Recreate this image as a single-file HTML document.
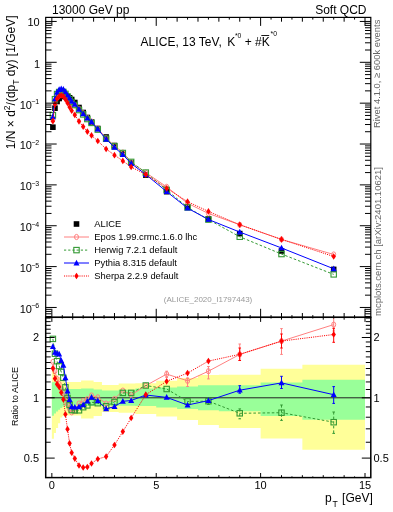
<!DOCTYPE html>
<html><head><meta charset="utf-8"><style>
html,body{margin:0;padding:0;background:#fff;width:393px;height:512px;overflow:hidden}
svg{display:block;will-change:transform}
text{font-family:"Liberation Sans",sans-serif}
</style></head><body>
<svg width="393" height="512" viewBox="0 0 393 512">
<rect width="393" height="512" fill="#fff"/>
<clipPath id="cr"><rect x="45.7" y="317.3" width="325.1" height="160.3"/></clipPath>
<clipPath id="cm"><rect x="45.7" y="17.4" width="325.1" height="299.90000000000003"/></clipPath>
<g clip-path="url(#cr)">
<path d="M51.85,370.40 L53.94,370.40 L53.94,372.60 L56.03,372.60 L56.03,375.00 L58.11,375.00 L58.11,377.00 L60.20,377.00 L60.20,379.50 L62.29,379.50 L62.29,381.00 L64.38,381.00 L64.38,382.00 L66.46,382.00 L66.46,382.10 L68.55,382.10 L68.55,382.10 L70.64,382.10 L70.64,382.10 L72.73,382.10 L72.73,382.10 L76.90,382.10 L76.90,382.10 L81.08,382.10 L81.08,380.40 L85.25,380.40 L85.25,380.40 L89.43,380.40 L89.43,380.40 L93.60,380.40 L93.60,382.10 L101.95,382.10 L101.95,385.00 L110.31,385.00 L110.31,385.00 L118.66,385.00 L118.66,383.40 L127.01,383.40 L127.01,383.40 L135.36,383.40 L135.36,383.20 L156.23,383.20 L156.23,380.80 L177.11,380.80 L177.11,377.90 L197.99,377.90 L197.99,375.00 L218.87,375.00 L218.87,374.80 L260.62,374.80 L260.62,368.80 L302.37,368.80 L302.37,364.80 L365.00,364.80 L365.00,449.70 L302.37,449.70 L302.37,438.50 L260.62,438.50 L260.62,428.00 L218.87,428.00 L218.87,425.10 L197.99,425.10 L197.99,420.00 L177.11,420.00 L177.11,416.60 L156.23,416.60 L156.23,414.00 L135.36,414.00 L135.36,412.70 L127.01,412.70 L127.01,412.70 L118.66,412.70 L118.66,412.00 L110.31,412.00 L110.31,412.00 L101.95,412.00 L101.95,416.00 L93.60,416.00 L93.60,418.60 L89.43,418.60 L89.43,418.60 L85.25,418.60 L85.25,418.60 L81.08,418.60 L81.08,415.50 L76.90,415.50 L76.90,415.50 L72.73,415.50 L72.73,415.50 L70.64,415.50 L70.64,415.50 L68.55,415.50 L68.55,415.50 L66.46,415.50 L66.46,415.50 L64.38,415.50 L64.38,416.00 L62.29,416.00 L62.29,417.60 L60.20,417.60 L60.20,423.30 L58.11,423.30 L58.11,428.10 L56.03,428.10 L56.03,433.00 L53.94,433.00 L53.94,438.70 L51.85,438.70Z" fill="#ffff99"/>
<path d="M51.85,382.30 L53.94,382.30 L53.94,382.30 L56.03,382.30 L56.03,383.50 L58.11,383.50 L58.11,385.00 L60.20,385.00 L60.20,387.00 L62.29,387.00 L62.29,388.00 L64.38,388.00 L64.38,389.00 L66.46,389.00 L66.46,389.00 L68.55,389.00 L68.55,389.00 L70.64,389.00 L70.64,389.00 L72.73,389.00 L72.73,389.00 L76.90,389.00 L76.90,389.00 L81.08,389.00 L81.08,388.40 L85.25,388.40 L85.25,388.40 L89.43,388.40 L89.43,388.40 L93.60,388.40 L93.60,389.50 L101.95,389.50 L101.95,390.40 L110.31,390.40 L110.31,390.40 L118.66,390.40 L118.66,389.70 L127.01,389.70 L127.01,389.70 L135.36,389.70 L135.36,388.40 L156.23,388.40 L156.23,387.40 L177.11,387.40 L177.11,386.50 L197.99,386.50 L197.99,385.20 L218.87,385.20 L218.87,385.20 L260.62,385.20 L260.62,382.40 L302.37,382.40 L302.37,379.80 L365.00,379.80 L365.00,419.70 L302.37,419.70 L302.37,416.00 L260.62,416.00 L260.62,411.30 L218.87,411.30 L218.87,410.30 L197.99,410.30 L197.99,409.00 L177.11,409.00 L177.11,407.50 L156.23,407.50 L156.23,406.10 L135.36,406.10 L135.36,405.70 L127.01,405.70 L127.01,405.70 L118.66,405.70 L118.66,405.70 L110.31,405.70 L110.31,405.70 L101.95,405.70 L101.95,405.50 L93.60,405.50 L93.60,406.00 L89.43,406.00 L89.43,406.00 L85.25,406.00 L85.25,406.00 L81.08,406.00 L81.08,405.50 L76.90,405.50 L76.90,405.50 L72.73,405.50 L72.73,405.50 L70.64,405.50 L70.64,405.50 L68.55,405.50 L68.55,405.50 L66.46,405.50 L66.46,406.00 L64.38,406.00 L64.38,406.60 L62.29,406.60 L62.29,407.90 L60.20,407.90 L60.20,409.70 L58.11,409.70 L58.11,411.40 L56.03,411.40 L56.03,413.60 L53.94,413.60 L53.94,415.80 L51.85,415.80Z" fill="#99ff99"/>
<line x1="45.7" y1="397.8" x2="370.8" y2="397.8" stroke="#222" stroke-width="1"/>
</g>
<g clip-path="url(#cm)">
<rect x="50.09" y="124.40" width="5.60" height="5.60" fill="#000"/>
<rect x="52.18" y="105.40" width="5.60" height="5.60" fill="#000"/>
<rect x="54.27" y="98.70" width="5.60" height="5.60" fill="#000"/>
<rect x="56.36" y="95.70" width="5.60" height="5.60" fill="#000"/>
<rect x="58.44" y="93.70" width="5.60" height="5.60" fill="#000"/>
<rect x="60.53" y="93.20" width="5.60" height="5.60" fill="#000"/>
<rect x="62.62" y="93.20" width="5.60" height="5.60" fill="#000"/>
<rect x="64.71" y="93.70" width="5.60" height="5.60" fill="#000"/>
<rect x="66.80" y="95.00" width="5.60" height="5.60" fill="#000"/>
<rect x="68.88" y="96.70" width="5.60" height="5.60" fill="#000"/>
<rect x="72.01" y="99.70" width="5.60" height="5.60" fill="#000"/>
<rect x="76.19" y="104.70" width="5.60" height="5.60" fill="#000"/>
<rect x="80.37" y="109.70" width="5.60" height="5.60" fill="#000"/>
<rect x="84.54" y="114.70" width="5.60" height="5.60" fill="#000"/>
<rect x="88.72" y="119.20" width="5.60" height="5.60" fill="#000"/>
<rect x="94.98" y="125.70" width="5.60" height="5.60" fill="#000"/>
<rect x="103.33" y="134.20" width="5.60" height="5.60" fill="#000"/>
<rect x="111.68" y="142.70" width="5.60" height="5.60" fill="#000"/>
<rect x="120.03" y="151.20" width="5.60" height="5.60" fill="#000"/>
<rect x="128.38" y="160.10" width="5.60" height="5.60" fill="#000"/>
<rect x="143.00" y="172.30" width="5.60" height="5.60" fill="#000"/>
<rect x="163.87" y="188.90" width="5.60" height="5.60" fill="#000"/>
<rect x="184.75" y="203.90" width="5.60" height="5.60" fill="#000"/>
<rect x="205.63" y="216.10" width="5.60" height="5.60" fill="#000"/>
<rect x="236.94" y="230.80" width="5.60" height="5.60" fill="#000"/>
<rect x="278.70" y="248.20" width="5.60" height="5.60" fill="#000"/>
<rect x="330.89" y="266.60" width="5.60" height="5.60" fill="#000"/>
</g>
<g clip-path="url(#cm)"><path d="M52.89,119.88 L54.98,102.73 L57.07,97.66 L59.16,95.68 L61.24,94.64 L63.33,95.02 L65.42,96.04 L67.51,97.76 L69.60,100.08 L71.68,102.48 L74.81,105.19 L78.99,108.66 L83.17,113.15 L87.34,117.77 L91.52,121.53 L97.78,128.40 L106.13,138.18 L114.48,145.74 L122.83,152.53 L131.18,162.33 L145.80,172.61 L166.67,186.87 L187.55,203.23 L208.43,213.47 L239.74,224.75 L281.50,239.43 L333.69,254.47" fill="none" stroke="#ff8080" stroke-width="1" />
<ellipse cx="52.89" cy="119.88" rx="2.00" ry="2.60" fill="none" stroke="#ff8080" stroke-width="1"/>
<ellipse cx="54.98" cy="102.73" rx="2.00" ry="2.60" fill="none" stroke="#ff8080" stroke-width="1"/>
<ellipse cx="57.07" cy="97.66" rx="2.00" ry="2.60" fill="none" stroke="#ff8080" stroke-width="1"/>
<ellipse cx="59.16" cy="95.68" rx="2.00" ry="2.60" fill="none" stroke="#ff8080" stroke-width="1"/>
<ellipse cx="61.24" cy="94.64" rx="2.00" ry="2.60" fill="none" stroke="#ff8080" stroke-width="1"/>
<ellipse cx="63.33" cy="95.02" rx="2.00" ry="2.60" fill="none" stroke="#ff8080" stroke-width="1"/>
<ellipse cx="65.42" cy="96.04" rx="2.00" ry="2.60" fill="none" stroke="#ff8080" stroke-width="1"/>
<ellipse cx="67.51" cy="97.76" rx="2.00" ry="2.60" fill="none" stroke="#ff8080" stroke-width="1"/>
<ellipse cx="69.60" cy="100.08" rx="2.00" ry="2.60" fill="none" stroke="#ff8080" stroke-width="1"/>
<ellipse cx="71.68" cy="102.48" rx="2.00" ry="2.60" fill="none" stroke="#ff8080" stroke-width="1"/>
<ellipse cx="74.81" cy="105.19" rx="2.00" ry="2.60" fill="none" stroke="#ff8080" stroke-width="1"/>
<ellipse cx="78.99" cy="108.66" rx="2.00" ry="2.60" fill="none" stroke="#ff8080" stroke-width="1"/>
<ellipse cx="83.17" cy="113.15" rx="2.00" ry="2.60" fill="none" stroke="#ff8080" stroke-width="1"/>
<ellipse cx="87.34" cy="117.77" rx="2.00" ry="2.60" fill="none" stroke="#ff8080" stroke-width="1"/>
<ellipse cx="91.52" cy="121.53" rx="2.00" ry="2.60" fill="none" stroke="#ff8080" stroke-width="1"/>
<ellipse cx="97.78" cy="128.40" rx="2.00" ry="2.60" fill="none" stroke="#ff8080" stroke-width="1"/>
<ellipse cx="106.13" cy="138.18" rx="2.00" ry="2.60" fill="none" stroke="#ff8080" stroke-width="1"/>
<ellipse cx="114.48" cy="145.74" rx="2.00" ry="2.60" fill="none" stroke="#ff8080" stroke-width="1"/>
<ellipse cx="122.83" cy="152.53" rx="2.00" ry="2.60" fill="none" stroke="#ff8080" stroke-width="1"/>
<ellipse cx="131.18" cy="162.33" rx="2.00" ry="2.60" fill="none" stroke="#ff8080" stroke-width="1"/>
<ellipse cx="145.80" cy="172.61" rx="2.00" ry="2.60" fill="none" stroke="#ff8080" stroke-width="1"/>
<ellipse cx="166.67" cy="186.87" rx="2.00" ry="2.60" fill="none" stroke="#ff8080" stroke-width="1"/>
<ellipse cx="187.55" cy="203.23" rx="2.00" ry="2.60" fill="none" stroke="#ff8080" stroke-width="1"/>
<ellipse cx="208.43" cy="213.47" rx="2.00" ry="2.60" fill="none" stroke="#ff8080" stroke-width="1"/>
<ellipse cx="239.74" cy="224.75" rx="2.00" ry="2.60" fill="none" stroke="#ff8080" stroke-width="1"/>
<ellipse cx="281.50" cy="239.43" rx="2.00" ry="2.60" fill="none" stroke="#ff8080" stroke-width="1"/>
<ellipse cx="333.69" cy="254.47" rx="2.00" ry="2.60" fill="none" stroke="#ff8080" stroke-width="1"/>
</g>
<g clip-path="url(#cr)"><path d="M52.89,361.90 L54.98,371.00 L57.07,379.00 L59.16,384.00 L61.24,388.70 L63.33,393.00 L65.42,398.00 L67.51,404.00 L69.60,409.00 L71.68,412.40 L74.81,411.00 L78.99,403.50 L83.17,401.00 L87.34,399.10 L91.52,395.50 L97.78,397.30 L106.13,403.60 L114.48,399.00 L122.83,390.60 L131.18,395.00 L145.80,385.60 L166.67,374.10 L187.55,380.80 L208.43,371.20 L239.74,354.40 L281.50,341.10 L333.69,324.60" fill="none" stroke="#ff8080" stroke-width="1" />
<ellipse cx="52.89" cy="361.90" rx="2.00" ry="2.60" fill="none" stroke="#ff8080" stroke-width="1"/>
<ellipse cx="54.98" cy="371.00" rx="2.00" ry="2.60" fill="none" stroke="#ff8080" stroke-width="1"/>
<ellipse cx="57.07" cy="379.00" rx="2.00" ry="2.60" fill="none" stroke="#ff8080" stroke-width="1"/>
<ellipse cx="59.16" cy="384.00" rx="2.00" ry="2.60" fill="none" stroke="#ff8080" stroke-width="1"/>
<ellipse cx="61.24" cy="388.70" rx="2.00" ry="2.60" fill="none" stroke="#ff8080" stroke-width="1"/>
<ellipse cx="63.33" cy="393.00" rx="2.00" ry="2.60" fill="none" stroke="#ff8080" stroke-width="1"/>
<ellipse cx="65.42" cy="398.00" rx="2.00" ry="2.60" fill="none" stroke="#ff8080" stroke-width="1"/>
<ellipse cx="67.51" cy="404.00" rx="2.00" ry="2.60" fill="none" stroke="#ff8080" stroke-width="1"/>
<ellipse cx="69.60" cy="409.00" rx="2.00" ry="2.60" fill="none" stroke="#ff8080" stroke-width="1"/>
<ellipse cx="71.68" cy="412.40" rx="2.00" ry="2.60" fill="none" stroke="#ff8080" stroke-width="1"/>
<ellipse cx="74.81" cy="411.00" rx="2.00" ry="2.60" fill="none" stroke="#ff8080" stroke-width="1"/>
<ellipse cx="78.99" cy="403.50" rx="2.00" ry="2.60" fill="none" stroke="#ff8080" stroke-width="1"/>
<ellipse cx="83.17" cy="401.00" rx="2.00" ry="2.60" fill="none" stroke="#ff8080" stroke-width="1"/>
<ellipse cx="87.34" cy="399.10" rx="2.00" ry="2.60" fill="none" stroke="#ff8080" stroke-width="1"/>
<ellipse cx="91.52" cy="395.50" rx="2.00" ry="2.60" fill="none" stroke="#ff8080" stroke-width="1"/>
<ellipse cx="97.78" cy="397.30" rx="2.00" ry="2.60" fill="none" stroke="#ff8080" stroke-width="1"/>
<ellipse cx="106.13" cy="403.60" rx="2.00" ry="2.60" fill="none" stroke="#ff8080" stroke-width="1"/>
<ellipse cx="114.48" cy="399.00" rx="2.00" ry="2.60" fill="none" stroke="#ff8080" stroke-width="1"/>
<ellipse cx="122.83" cy="390.60" rx="2.00" ry="2.60" fill="none" stroke="#ff8080" stroke-width="1"/>
<ellipse cx="131.18" cy="395.00" rx="2.00" ry="2.60" fill="none" stroke="#ff8080" stroke-width="1"/>
<ellipse cx="145.80" cy="385.60" rx="2.00" ry="2.60" fill="none" stroke="#ff8080" stroke-width="1"/>
<line x1="166.67" y1="371.20" x2="166.67" y2="377.50" stroke="#ff8080" stroke-width="1" />
<line x1="165.37" y1="371.20" x2="167.97" y2="371.20" stroke="#ff8080" stroke-width="1"/>
<line x1="165.37" y1="377.50" x2="167.97" y2="377.50" stroke="#ff8080" stroke-width="1"/>
<ellipse cx="166.67" cy="374.10" rx="2.00" ry="2.60" fill="none" stroke="#ff8080" stroke-width="1"/>
<line x1="187.55" y1="377.90" x2="187.55" y2="386.50" stroke="#ff8080" stroke-width="1" />
<line x1="186.25" y1="377.90" x2="188.85" y2="377.90" stroke="#ff8080" stroke-width="1"/>
<line x1="186.25" y1="386.50" x2="188.85" y2="386.50" stroke="#ff8080" stroke-width="1"/>
<ellipse cx="187.55" cy="380.80" rx="2.00" ry="2.60" fill="none" stroke="#ff8080" stroke-width="1"/>
<line x1="208.43" y1="366.50" x2="208.43" y2="378.90" stroke="#ff8080" stroke-width="1" />
<line x1="207.13" y1="366.50" x2="209.73" y2="366.50" stroke="#ff8080" stroke-width="1"/>
<line x1="207.13" y1="378.90" x2="209.73" y2="378.90" stroke="#ff8080" stroke-width="1"/>
<ellipse cx="208.43" cy="371.20" rx="2.00" ry="2.60" fill="none" stroke="#ff8080" stroke-width="1"/>
<line x1="239.74" y1="344.00" x2="239.74" y2="360.50" stroke="#ff8080" stroke-width="1" />
<line x1="238.44" y1="344.00" x2="241.04" y2="344.00" stroke="#ff8080" stroke-width="1"/>
<line x1="238.44" y1="360.50" x2="241.04" y2="360.50" stroke="#ff8080" stroke-width="1"/>
<ellipse cx="239.74" cy="354.40" rx="2.00" ry="2.60" fill="none" stroke="#ff8080" stroke-width="1"/>
<line x1="281.50" y1="328.60" x2="281.50" y2="354.40" stroke="#ff8080" stroke-width="1" />
<line x1="280.20" y1="328.60" x2="282.80" y2="328.60" stroke="#ff8080" stroke-width="1"/>
<line x1="280.20" y1="354.40" x2="282.80" y2="354.40" stroke="#ff8080" stroke-width="1"/>
<ellipse cx="281.50" cy="341.10" rx="2.00" ry="2.60" fill="none" stroke="#ff8080" stroke-width="1"/>
<line x1="333.69" y1="300.00" x2="333.69" y2="331.00" stroke="#ff8080" stroke-width="1" />
<line x1="332.39" y1="300.00" x2="334.99" y2="300.00" stroke="#ff8080" stroke-width="1"/>
<line x1="332.39" y1="331.00" x2="334.99" y2="331.00" stroke="#ff8080" stroke-width="1"/>
<ellipse cx="333.69" cy="324.60" rx="2.00" ry="2.60" fill="none" stroke="#ff8080" stroke-width="1"/>
</g>
<g clip-path="url(#cm)"><path d="M52.89,115.18 L54.98,99.20 L57.07,94.03 L59.16,92.01 L61.24,91.24 L63.33,91.92 L65.42,93.86 L67.51,96.54 L69.60,99.27 L71.68,101.99 L74.81,105.05 L78.99,110.05 L83.17,114.42 L87.34,119.05 L91.52,122.90 L97.78,129.60 L106.13,138.73 L114.48,146.36 L122.83,153.00 L131.18,161.90 L145.80,172.59 L166.67,189.90 L187.55,207.43 L208.43,219.59 L239.74,236.76 L281.50,254.04 L333.69,274.38" fill="none" stroke="#339933" stroke-width="1" stroke-dasharray="2.6,2"/>
<rect x="50.19" y="112.48" width="5.40" height="5.40" fill="none" stroke="#339933" stroke-width="1.1"/>
<rect x="52.28" y="96.50" width="5.40" height="5.40" fill="none" stroke="#339933" stroke-width="1.1"/>
<rect x="54.37" y="91.33" width="5.40" height="5.40" fill="none" stroke="#339933" stroke-width="1.1"/>
<rect x="56.46" y="89.31" width="5.40" height="5.40" fill="none" stroke="#339933" stroke-width="1.1"/>
<rect x="58.54" y="88.54" width="5.40" height="5.40" fill="none" stroke="#339933" stroke-width="1.1"/>
<rect x="60.63" y="89.22" width="5.40" height="5.40" fill="none" stroke="#339933" stroke-width="1.1"/>
<rect x="62.72" y="91.16" width="5.40" height="5.40" fill="none" stroke="#339933" stroke-width="1.1"/>
<rect x="64.81" y="93.84" width="5.40" height="5.40" fill="none" stroke="#339933" stroke-width="1.1"/>
<rect x="66.90" y="96.57" width="5.40" height="5.40" fill="none" stroke="#339933" stroke-width="1.1"/>
<rect x="68.98" y="99.29" width="5.40" height="5.40" fill="none" stroke="#339933" stroke-width="1.1"/>
<rect x="72.11" y="102.35" width="5.40" height="5.40" fill="none" stroke="#339933" stroke-width="1.1"/>
<rect x="76.29" y="107.35" width="5.40" height="5.40" fill="none" stroke="#339933" stroke-width="1.1"/>
<rect x="80.47" y="111.72" width="5.40" height="5.40" fill="none" stroke="#339933" stroke-width="1.1"/>
<rect x="84.64" y="116.35" width="5.40" height="5.40" fill="none" stroke="#339933" stroke-width="1.1"/>
<rect x="88.82" y="120.20" width="5.40" height="5.40" fill="none" stroke="#339933" stroke-width="1.1"/>
<rect x="95.08" y="126.90" width="5.40" height="5.40" fill="none" stroke="#339933" stroke-width="1.1"/>
<rect x="103.43" y="136.03" width="5.40" height="5.40" fill="none" stroke="#339933" stroke-width="1.1"/>
<rect x="111.78" y="143.66" width="5.40" height="5.40" fill="none" stroke="#339933" stroke-width="1.1"/>
<rect x="120.13" y="150.30" width="5.40" height="5.40" fill="none" stroke="#339933" stroke-width="1.1"/>
<rect x="128.48" y="159.20" width="5.40" height="5.40" fill="none" stroke="#339933" stroke-width="1.1"/>
<rect x="143.10" y="169.89" width="5.40" height="5.40" fill="none" stroke="#339933" stroke-width="1.1"/>
<rect x="163.97" y="187.20" width="5.40" height="5.40" fill="none" stroke="#339933" stroke-width="1.1"/>
<rect x="184.85" y="204.73" width="5.40" height="5.40" fill="none" stroke="#339933" stroke-width="1.1"/>
<rect x="205.73" y="216.89" width="5.40" height="5.40" fill="none" stroke="#339933" stroke-width="1.1"/>
<rect x="237.04" y="234.06" width="5.40" height="5.40" fill="none" stroke="#339933" stroke-width="1.1"/>
<rect x="278.80" y="251.34" width="5.40" height="5.40" fill="none" stroke="#339933" stroke-width="1.1"/>
<rect x="330.99" y="271.68" width="5.40" height="5.40" fill="none" stroke="#339933" stroke-width="1.1"/>
</g>
<g clip-path="url(#cr)"><path d="M52.89,338.90 L54.98,353.70 L57.07,361.20 L59.16,366.00 L61.24,372.00 L63.33,377.80 L65.42,387.30 L67.51,398.00 L69.60,405.00 L71.68,410.00 L74.81,410.30 L78.99,410.30 L83.17,407.20 L87.34,405.40 L91.52,402.20 L97.78,403.20 L106.13,406.30 L114.48,402.00 L122.83,392.90 L131.18,392.90 L145.80,385.50 L166.67,389.00 L187.55,401.40 L208.43,401.20 L239.74,413.30 L281.50,412.70 L333.69,422.20" fill="none" stroke="#339933" stroke-width="1" stroke-dasharray="2.6,2"/>
<rect x="50.19" y="336.20" width="5.40" height="5.40" fill="none" stroke="#339933" stroke-width="1.1"/>
<rect x="52.28" y="351.00" width="5.40" height="5.40" fill="none" stroke="#339933" stroke-width="1.1"/>
<rect x="54.37" y="358.50" width="5.40" height="5.40" fill="none" stroke="#339933" stroke-width="1.1"/>
<rect x="56.46" y="363.30" width="5.40" height="5.40" fill="none" stroke="#339933" stroke-width="1.1"/>
<rect x="58.54" y="369.30" width="5.40" height="5.40" fill="none" stroke="#339933" stroke-width="1.1"/>
<rect x="60.63" y="375.10" width="5.40" height="5.40" fill="none" stroke="#339933" stroke-width="1.1"/>
<rect x="62.72" y="384.60" width="5.40" height="5.40" fill="none" stroke="#339933" stroke-width="1.1"/>
<rect x="64.81" y="395.30" width="5.40" height="5.40" fill="none" stroke="#339933" stroke-width="1.1"/>
<rect x="66.90" y="402.30" width="5.40" height="5.40" fill="none" stroke="#339933" stroke-width="1.1"/>
<rect x="68.98" y="407.30" width="5.40" height="5.40" fill="none" stroke="#339933" stroke-width="1.1"/>
<rect x="72.11" y="407.60" width="5.40" height="5.40" fill="none" stroke="#339933" stroke-width="1.1"/>
<rect x="76.29" y="407.60" width="5.40" height="5.40" fill="none" stroke="#339933" stroke-width="1.1"/>
<rect x="80.47" y="404.50" width="5.40" height="5.40" fill="none" stroke="#339933" stroke-width="1.1"/>
<rect x="84.64" y="402.70" width="5.40" height="5.40" fill="none" stroke="#339933" stroke-width="1.1"/>
<rect x="88.82" y="399.50" width="5.40" height="5.40" fill="none" stroke="#339933" stroke-width="1.1"/>
<rect x="95.08" y="400.50" width="5.40" height="5.40" fill="none" stroke="#339933" stroke-width="1.1"/>
<rect x="103.43" y="403.60" width="5.40" height="5.40" fill="none" stroke="#339933" stroke-width="1.1"/>
<rect x="111.78" y="399.30" width="5.40" height="5.40" fill="none" stroke="#339933" stroke-width="1.1"/>
<rect x="120.13" y="390.20" width="5.40" height="5.40" fill="none" stroke="#339933" stroke-width="1.1"/>
<rect x="128.48" y="390.20" width="5.40" height="5.40" fill="none" stroke="#339933" stroke-width="1.1"/>
<rect x="143.10" y="382.80" width="5.40" height="5.40" fill="none" stroke="#339933" stroke-width="1.1"/>
<rect x="163.97" y="386.30" width="5.40" height="5.40" fill="none" stroke="#339933" stroke-width="1.1"/>
<rect x="184.85" y="398.70" width="5.40" height="5.40" fill="none" stroke="#339933" stroke-width="1.1"/>
<line x1="208.43" y1="398.00" x2="208.43" y2="404.50" stroke="#339933" stroke-width="1" stroke-dasharray="2.6,2"/>
<line x1="207.13" y1="398.00" x2="209.73" y2="398.00" stroke="#339933" stroke-width="1"/>
<line x1="207.13" y1="404.50" x2="209.73" y2="404.50" stroke="#339933" stroke-width="1"/>
<rect x="205.73" y="398.50" width="5.40" height="5.40" fill="none" stroke="#339933" stroke-width="1.1"/>
<line x1="239.74" y1="408.90" x2="239.74" y2="418.80" stroke="#339933" stroke-width="1" stroke-dasharray="2.6,2"/>
<line x1="238.44" y1="408.90" x2="241.04" y2="408.90" stroke="#339933" stroke-width="1"/>
<line x1="238.44" y1="418.80" x2="241.04" y2="418.80" stroke="#339933" stroke-width="1"/>
<rect x="237.04" y="410.60" width="5.40" height="5.40" fill="none" stroke="#339933" stroke-width="1.1"/>
<line x1="281.50" y1="405.00" x2="281.50" y2="420.40" stroke="#339933" stroke-width="1" stroke-dasharray="2.6,2"/>
<line x1="280.20" y1="405.00" x2="282.80" y2="405.00" stroke="#339933" stroke-width="1"/>
<line x1="280.20" y1="420.40" x2="282.80" y2="420.40" stroke="#339933" stroke-width="1"/>
<rect x="278.80" y="410.00" width="5.40" height="5.40" fill="none" stroke="#339933" stroke-width="1.1"/>
<line x1="333.69" y1="412.00" x2="333.69" y2="433.40" stroke="#339933" stroke-width="1" stroke-dasharray="2.6,2"/>
<line x1="332.39" y1="412.00" x2="334.99" y2="412.00" stroke="#339933" stroke-width="1"/>
<line x1="332.39" y1="433.40" x2="334.99" y2="433.40" stroke="#339933" stroke-width="1"/>
<rect x="330.99" y="419.50" width="5.40" height="5.40" fill="none" stroke="#339933" stroke-width="1.1"/>
</g>
<g clip-path="url(#cm)"><path d="M52.89,116.74 L54.98,98.92 L57.07,92.42 L59.16,89.57 L61.24,88.91 L63.33,89.39 L65.42,91.92 L67.51,95.11 L69.60,98.17 L71.68,101.36 L74.81,104.42 L78.99,109.34 L83.17,113.93 L87.34,118.19 L91.52,121.92 L97.78,129.11 L106.13,139.26 L114.48,147.30 L122.83,154.71 L131.18,163.45 L145.80,174.53 L166.67,191.62 L187.55,208.17 L208.43,219.47 L239.74,232.05 L281.50,247.96 L333.69,268.77" fill="none" stroke="#0000ff" stroke-width="1" />
<path d="M52.89,113.44 L55.89,119.14 L49.89,119.14Z" fill="#0000ff"/>
<path d="M54.98,95.62 L57.98,101.32 L51.98,101.32Z" fill="#0000ff"/>
<path d="M57.07,89.12 L60.07,94.82 L54.07,94.82Z" fill="#0000ff"/>
<path d="M59.16,86.27 L62.16,91.97 L56.16,91.97Z" fill="#0000ff"/>
<path d="M61.24,85.61 L64.24,91.31 L58.24,91.31Z" fill="#0000ff"/>
<path d="M63.33,86.09 L66.33,91.79 L60.33,91.79Z" fill="#0000ff"/>
<path d="M65.42,88.62 L68.42,94.32 L62.42,94.32Z" fill="#0000ff"/>
<path d="M67.51,91.81 L70.51,97.51 L64.51,97.51Z" fill="#0000ff"/>
<path d="M69.60,94.87 L72.60,100.57 L66.60,100.57Z" fill="#0000ff"/>
<path d="M71.68,98.06 L74.68,103.76 L68.68,103.76Z" fill="#0000ff"/>
<path d="M74.81,101.12 L77.81,106.82 L71.81,106.82Z" fill="#0000ff"/>
<path d="M78.99,106.04 L81.99,111.74 L75.99,111.74Z" fill="#0000ff"/>
<path d="M83.17,110.63 L86.17,116.33 L80.17,116.33Z" fill="#0000ff"/>
<path d="M87.34,114.89 L90.34,120.59 L84.34,120.59Z" fill="#0000ff"/>
<path d="M91.52,118.62 L94.52,124.32 L88.52,124.32Z" fill="#0000ff"/>
<path d="M97.78,125.81 L100.78,131.51 L94.78,131.51Z" fill="#0000ff"/>
<path d="M106.13,135.96 L109.13,141.66 L103.13,141.66Z" fill="#0000ff"/>
<path d="M114.48,144.00 L117.48,149.70 L111.48,149.70Z" fill="#0000ff"/>
<path d="M122.83,151.41 L125.83,157.11 L119.83,157.11Z" fill="#0000ff"/>
<path d="M131.18,160.15 L134.18,165.85 L128.18,165.85Z" fill="#0000ff"/>
<path d="M145.80,171.23 L148.80,176.93 L142.80,176.93Z" fill="#0000ff"/>
<path d="M166.67,188.32 L169.67,194.02 L163.67,194.02Z" fill="#0000ff"/>
<path d="M187.55,204.87 L190.55,210.57 L184.55,210.57Z" fill="#0000ff"/>
<path d="M208.43,216.17 L211.43,221.87 L205.43,221.87Z" fill="#0000ff"/>
<path d="M239.74,228.75 L242.74,234.45 L236.74,234.45Z" fill="#0000ff"/>
<path d="M281.50,244.66 L284.50,250.36 L278.50,250.36Z" fill="#0000ff"/>
<path d="M333.69,265.47 L336.69,271.17 L330.69,271.17Z" fill="#0000ff"/>
</g>
<g clip-path="url(#cr)"><path d="M52.89,346.50 L54.98,352.30 L57.07,353.30 L59.16,354.00 L61.24,360.60 L63.33,365.40 L65.42,377.80 L67.51,391.00 L69.60,399.60 L71.68,406.90 L74.81,407.20 L78.99,406.80 L83.17,404.80 L87.34,401.20 L91.52,397.40 L97.78,400.80 L106.13,408.90 L114.48,406.60 L122.83,401.30 L131.18,400.50 L145.80,395.00 L166.67,397.40 L187.55,405.00 L208.43,400.60 L239.74,390.20 L281.50,382.90 L333.69,394.70" fill="none" stroke="#0000ff" stroke-width="1" />
<path d="M52.89,343.20 L55.89,348.90 L49.89,348.90Z" fill="#0000ff"/>
<path d="M54.98,349.00 L57.98,354.70 L51.98,354.70Z" fill="#0000ff"/>
<path d="M57.07,350.00 L60.07,355.70 L54.07,355.70Z" fill="#0000ff"/>
<path d="M59.16,350.70 L62.16,356.40 L56.16,356.40Z" fill="#0000ff"/>
<path d="M61.24,357.30 L64.24,363.00 L58.24,363.00Z" fill="#0000ff"/>
<path d="M63.33,362.10 L66.33,367.80 L60.33,367.80Z" fill="#0000ff"/>
<path d="M65.42,374.50 L68.42,380.20 L62.42,380.20Z" fill="#0000ff"/>
<path d="M67.51,387.70 L70.51,393.40 L64.51,393.40Z" fill="#0000ff"/>
<path d="M69.60,396.30 L72.60,402.00 L66.60,402.00Z" fill="#0000ff"/>
<path d="M71.68,403.60 L74.68,409.30 L68.68,409.30Z" fill="#0000ff"/>
<path d="M74.81,403.90 L77.81,409.60 L71.81,409.60Z" fill="#0000ff"/>
<path d="M78.99,403.50 L81.99,409.20 L75.99,409.20Z" fill="#0000ff"/>
<path d="M83.17,401.50 L86.17,407.20 L80.17,407.20Z" fill="#0000ff"/>
<path d="M87.34,397.90 L90.34,403.60 L84.34,403.60Z" fill="#0000ff"/>
<path d="M91.52,394.10 L94.52,399.80 L88.52,399.80Z" fill="#0000ff"/>
<path d="M97.78,397.50 L100.78,403.20 L94.78,403.20Z" fill="#0000ff"/>
<path d="M106.13,405.60 L109.13,411.30 L103.13,411.30Z" fill="#0000ff"/>
<path d="M114.48,403.30 L117.48,409.00 L111.48,409.00Z" fill="#0000ff"/>
<path d="M122.83,398.00 L125.83,403.70 L119.83,403.70Z" fill="#0000ff"/>
<path d="M131.18,397.20 L134.18,402.90 L128.18,402.90Z" fill="#0000ff"/>
<path d="M145.80,391.70 L148.80,397.40 L142.80,397.40Z" fill="#0000ff"/>
<path d="M166.67,394.10 L169.67,399.80 L163.67,399.80Z" fill="#0000ff"/>
<path d="M187.55,401.70 L190.55,407.40 L184.55,407.40Z" fill="#0000ff"/>
<path d="M208.43,397.30 L211.43,403.00 L205.43,403.00Z" fill="#0000ff"/>
<line x1="239.74" y1="385.70" x2="239.74" y2="393.20" stroke="#0000ff" stroke-width="1" />
<line x1="238.44" y1="385.70" x2="241.04" y2="385.70" stroke="#0000ff" stroke-width="1"/>
<line x1="238.44" y1="393.20" x2="241.04" y2="393.20" stroke="#0000ff" stroke-width="1"/>
<path d="M239.74,386.90 L242.74,392.60 L236.74,392.60Z" fill="#0000ff"/>
<line x1="281.50" y1="376.30" x2="281.50" y2="388.50" stroke="#0000ff" stroke-width="1" />
<line x1="280.20" y1="376.30" x2="282.80" y2="376.30" stroke="#0000ff" stroke-width="1"/>
<line x1="280.20" y1="388.50" x2="282.80" y2="388.50" stroke="#0000ff" stroke-width="1"/>
<path d="M281.50,379.60 L284.50,385.30 L278.50,385.30Z" fill="#0000ff"/>
<line x1="333.69" y1="386.60" x2="333.69" y2="403.40" stroke="#0000ff" stroke-width="1" />
<line x1="332.39" y1="386.60" x2="334.99" y2="386.60" stroke="#0000ff" stroke-width="1"/>
<line x1="332.39" y1="403.40" x2="334.99" y2="403.40" stroke="#0000ff" stroke-width="1"/>
<path d="M333.69,391.40 L336.69,397.10 L330.69,397.10Z" fill="#0000ff"/>
</g>
<g clip-path="url(#cm)"><path d="M52.89,121.18 L54.98,104.28 L57.07,98.73 L59.16,96.30 L61.24,95.44 L63.33,96.35 L65.42,99.37 L67.51,102.91 L69.60,107.08 L71.68,110.70 L74.81,114.90 L78.99,121.31 L83.17,126.72 L87.34,131.62 L91.52,135.40 L97.78,140.98 L106.13,148.99 L114.48,155.13 L122.83,160.89 L131.18,167.02 L145.80,174.47 L166.67,188.33 L187.55,201.66 L208.43,211.41 L239.74,224.73 L281.50,239.43 L333.69,256.49" fill="none" stroke="#ff0000" stroke-width="1" stroke-dasharray="1.1,1.1"/>
<path d="M52.89,117.83 L55.10,121.18 L52.89,124.53 L50.68,121.18Z" fill="#ff0000"/>
<path d="M54.98,100.93 L57.19,104.28 L54.98,107.63 L52.77,104.28Z" fill="#ff0000"/>
<path d="M57.07,95.38 L59.28,98.73 L57.07,102.08 L54.86,98.73Z" fill="#ff0000"/>
<path d="M59.16,92.95 L61.37,96.30 L59.16,99.65 L56.95,96.30Z" fill="#ff0000"/>
<path d="M61.24,92.09 L63.46,95.44 L61.24,98.79 L59.03,95.44Z" fill="#ff0000"/>
<path d="M63.33,93.00 L65.54,96.35 L63.33,99.70 L61.12,96.35Z" fill="#ff0000"/>
<path d="M65.42,96.02 L67.63,99.37 L65.42,102.72 L63.21,99.37Z" fill="#ff0000"/>
<path d="M67.51,99.56 L69.72,102.91 L67.51,106.26 L65.30,102.91Z" fill="#ff0000"/>
<path d="M69.60,103.73 L71.81,107.08 L69.60,110.43 L67.38,107.08Z" fill="#ff0000"/>
<path d="M71.68,107.35 L73.89,110.70 L71.68,114.05 L69.47,110.70Z" fill="#ff0000"/>
<path d="M74.81,111.55 L77.03,114.90 L74.81,118.25 L72.60,114.90Z" fill="#ff0000"/>
<path d="M78.99,117.96 L81.20,121.31 L78.99,124.66 L76.78,121.31Z" fill="#ff0000"/>
<path d="M83.17,123.37 L85.38,126.72 L83.17,130.07 L80.95,126.72Z" fill="#ff0000"/>
<path d="M87.34,128.27 L89.55,131.62 L87.34,134.97 L85.13,131.62Z" fill="#ff0000"/>
<path d="M91.52,132.05 L93.73,135.40 L91.52,138.75 L89.31,135.40Z" fill="#ff0000"/>
<path d="M97.78,137.63 L99.99,140.98 L97.78,144.33 L95.57,140.98Z" fill="#ff0000"/>
<path d="M106.13,145.64 L108.34,148.99 L106.13,152.34 L103.92,148.99Z" fill="#ff0000"/>
<path d="M114.48,151.78 L116.69,155.13 L114.48,158.48 L112.27,155.13Z" fill="#ff0000"/>
<path d="M122.83,157.54 L125.04,160.89 L122.83,164.24 L120.62,160.89Z" fill="#ff0000"/>
<path d="M131.18,163.67 L133.39,167.02 L131.18,170.37 L128.97,167.02Z" fill="#ff0000"/>
<path d="M145.80,171.12 L148.01,174.47 L145.80,177.82 L143.59,174.47Z" fill="#ff0000"/>
<path d="M166.67,184.98 L168.88,188.33 L166.67,191.68 L164.46,188.33Z" fill="#ff0000"/>
<path d="M187.55,198.31 L189.76,201.66 L187.55,205.01 L185.34,201.66Z" fill="#ff0000"/>
<path d="M208.43,208.06 L210.64,211.41 L208.43,214.76 L206.22,211.41Z" fill="#ff0000"/>
<path d="M239.74,221.38 L241.95,224.73 L239.74,228.08 L237.53,224.73Z" fill="#ff0000"/>
<path d="M281.50,236.08 L283.71,239.43 L281.50,242.78 L279.29,239.43Z" fill="#ff0000"/>
<path d="M333.69,253.14 L335.90,256.49 L333.69,259.84 L331.48,256.49Z" fill="#ff0000"/>
</g>
<g clip-path="url(#cr)"><path d="M52.89,368.30 L54.98,378.60 L57.07,384.20 L59.16,387.00 L61.24,392.60 L63.33,399.50 L65.42,414.30 L67.51,429.20 L69.60,443.30 L71.68,452.70 L74.81,458.60 L78.99,465.50 L83.17,467.50 L87.34,467.00 L91.52,463.50 L97.78,459.00 L106.13,456.60 L114.48,445.00 L122.83,431.60 L131.18,418.00 L145.80,394.70 L166.67,381.30 L187.55,373.10 L208.43,361.10 L239.74,354.30 L281.50,341.10 L333.69,334.50" fill="none" stroke="#ff0000" stroke-width="1" stroke-dasharray="1.1,1.1"/>
<path d="M52.89,364.95 L55.10,368.30 L52.89,371.65 L50.68,368.30Z" fill="#ff0000"/>
<path d="M54.98,375.25 L57.19,378.60 L54.98,381.95 L52.77,378.60Z" fill="#ff0000"/>
<path d="M57.07,380.85 L59.28,384.20 L57.07,387.55 L54.86,384.20Z" fill="#ff0000"/>
<path d="M59.16,383.65 L61.37,387.00 L59.16,390.35 L56.95,387.00Z" fill="#ff0000"/>
<path d="M61.24,389.25 L63.46,392.60 L61.24,395.95 L59.03,392.60Z" fill="#ff0000"/>
<path d="M63.33,396.15 L65.54,399.50 L63.33,402.85 L61.12,399.50Z" fill="#ff0000"/>
<path d="M65.42,410.95 L67.63,414.30 L65.42,417.65 L63.21,414.30Z" fill="#ff0000"/>
<path d="M67.51,425.85 L69.72,429.20 L67.51,432.55 L65.30,429.20Z" fill="#ff0000"/>
<path d="M69.60,439.95 L71.81,443.30 L69.60,446.65 L67.38,443.30Z" fill="#ff0000"/>
<path d="M71.68,449.35 L73.89,452.70 L71.68,456.05 L69.47,452.70Z" fill="#ff0000"/>
<path d="M74.81,455.25 L77.03,458.60 L74.81,461.95 L72.60,458.60Z" fill="#ff0000"/>
<path d="M78.99,462.15 L81.20,465.50 L78.99,468.85 L76.78,465.50Z" fill="#ff0000"/>
<path d="M83.17,464.15 L85.38,467.50 L83.17,470.85 L80.95,467.50Z" fill="#ff0000"/>
<path d="M87.34,463.65 L89.55,467.00 L87.34,470.35 L85.13,467.00Z" fill="#ff0000"/>
<path d="M91.52,460.15 L93.73,463.50 L91.52,466.85 L89.31,463.50Z" fill="#ff0000"/>
<path d="M97.78,455.65 L99.99,459.00 L97.78,462.35 L95.57,459.00Z" fill="#ff0000"/>
<path d="M106.13,453.25 L108.34,456.60 L106.13,459.95 L103.92,456.60Z" fill="#ff0000"/>
<path d="M114.48,441.65 L116.69,445.00 L114.48,448.35 L112.27,445.00Z" fill="#ff0000"/>
<path d="M122.83,428.25 L125.04,431.60 L122.83,434.95 L120.62,431.60Z" fill="#ff0000"/>
<path d="M131.18,414.65 L133.39,418.00 L131.18,421.35 L128.97,418.00Z" fill="#ff0000"/>
<path d="M145.80,391.35 L148.01,394.70 L145.80,398.05 L143.59,394.70Z" fill="#ff0000"/>
<path d="M166.67,377.95 L168.88,381.30 L166.67,384.65 L164.46,381.30Z" fill="#ff0000"/>
<path d="M187.55,369.75 L189.76,373.10 L187.55,376.45 L185.34,373.10Z" fill="#ff0000"/>
<path d="M208.43,357.75 L210.64,361.10 L208.43,364.45 L206.22,361.10Z" fill="#ff0000"/>
<line x1="239.74" y1="348.00" x2="239.74" y2="360.50" stroke="#ff0000" stroke-width="1" />
<line x1="238.44" y1="348.00" x2="241.04" y2="348.00" stroke="#ff0000" stroke-width="1"/>
<line x1="238.44" y1="360.50" x2="241.04" y2="360.50" stroke="#ff0000" stroke-width="1"/>
<path d="M239.74,350.95 L241.95,354.30 L239.74,357.65 L237.53,354.30Z" fill="#ff0000"/>
<line x1="281.50" y1="334.00" x2="281.50" y2="348.00" stroke="#ff0000" stroke-width="1" />
<line x1="280.20" y1="334.00" x2="282.80" y2="334.00" stroke="#ff0000" stroke-width="1"/>
<line x1="280.20" y1="348.00" x2="282.80" y2="348.00" stroke="#ff0000" stroke-width="1"/>
<path d="M281.50,337.75 L283.71,341.10 L281.50,344.45 L279.29,341.10Z" fill="#ff0000"/>
<line x1="333.69" y1="328.30" x2="333.69" y2="342.30" stroke="#ff0000" stroke-width="1" />
<line x1="332.39" y1="328.30" x2="334.99" y2="328.30" stroke="#ff0000" stroke-width="1"/>
<line x1="332.39" y1="342.30" x2="334.99" y2="342.30" stroke="#ff0000" stroke-width="1"/>
<path d="M333.69,331.15 L335.90,334.50 L333.69,337.85 L331.48,334.50Z" fill="#ff0000"/>
</g>
<rect x="45.7" y="17.4" width="325.1" height="299.90000000000003" fill="none" stroke="#000" stroke-width="1.2"/>
<rect x="45.7" y="317.3" width="325.1" height="160.3" fill="none" stroke="#000" stroke-width="1.5"/>
<path d="M51.85,17.40L51.85,25.90M51.85,317.30L51.85,308.80M51.85,477.60L51.85,473.00M51.85,317.30L51.85,321.90M62.29,17.40L62.29,19.60M62.29,317.30L62.29,315.10M62.29,477.60L62.29,476.40M62.29,317.30L62.29,318.50M72.73,17.40L72.73,21.70M72.73,317.30L72.73,313.00M72.73,477.60L72.73,475.20M72.73,317.30L72.73,319.70M83.17,17.40L83.17,19.60M83.17,317.30L83.17,315.10M83.17,477.60L83.17,476.40M83.17,317.30L83.17,318.50M93.60,17.40L93.60,21.70M93.60,317.30L93.60,313.00M93.60,477.60L93.60,475.20M93.60,317.30L93.60,319.70M104.04,17.40L104.04,19.60M104.04,317.30L104.04,315.10M104.04,477.60L104.04,476.40M104.04,317.30L104.04,318.50M114.48,17.40L114.48,21.70M114.48,317.30L114.48,313.00M114.48,477.60L114.48,475.20M114.48,317.30L114.48,319.70M124.92,17.40L124.92,19.60M124.92,317.30L124.92,315.10M124.92,477.60L124.92,476.40M124.92,317.30L124.92,318.50M135.36,17.40L135.36,21.70M135.36,317.30L135.36,313.00M135.36,477.60L135.36,475.20M135.36,317.30L135.36,319.70M145.80,17.40L145.80,19.60M145.80,317.30L145.80,315.10M145.80,477.60L145.80,476.40M145.80,317.30L145.80,318.50M156.23,17.40L156.23,25.90M156.23,317.30L156.23,308.80M156.23,477.60L156.23,473.00M156.23,317.30L156.23,321.90M166.67,17.40L166.67,19.60M166.67,317.30L166.67,315.10M166.67,477.60L166.67,476.40M166.67,317.30L166.67,318.50M177.11,17.40L177.11,21.70M177.11,317.30L177.11,313.00M177.11,477.60L177.11,475.20M177.11,317.30L177.11,319.70M187.55,17.40L187.55,19.60M187.55,317.30L187.55,315.10M187.55,477.60L187.55,476.40M187.55,317.30L187.55,318.50M197.99,17.40L197.99,21.70M197.99,317.30L197.99,313.00M197.99,477.60L197.99,475.20M197.99,317.30L197.99,319.70M208.43,17.40L208.43,19.60M208.43,317.30L208.43,315.10M208.43,477.60L208.43,476.40M208.43,317.30L208.43,318.50M218.87,17.40L218.87,21.70M218.87,317.30L218.87,313.00M218.87,477.60L218.87,475.20M218.87,317.30L218.87,319.70M229.30,17.40L229.30,19.60M229.30,317.30L229.30,315.10M229.30,477.60L229.30,476.40M229.30,317.30L229.30,318.50M239.74,17.40L239.74,21.70M239.74,317.30L239.74,313.00M239.74,477.60L239.74,475.20M239.74,317.30L239.74,319.70M250.18,17.40L250.18,19.60M250.18,317.30L250.18,315.10M250.18,477.60L250.18,476.40M250.18,317.30L250.18,318.50M260.62,17.40L260.62,25.90M260.62,317.30L260.62,308.80M260.62,477.60L260.62,473.00M260.62,317.30L260.62,321.90M271.06,17.40L271.06,19.60M271.06,317.30L271.06,315.10M271.06,477.60L271.06,476.40M271.06,317.30L271.06,318.50M281.50,17.40L281.50,21.70M281.50,317.30L281.50,313.00M281.50,477.60L281.50,475.20M281.50,317.30L281.50,319.70M291.94,17.40L291.94,19.60M291.94,317.30L291.94,315.10M291.94,477.60L291.94,476.40M291.94,317.30L291.94,318.50M302.37,17.40L302.37,21.70M302.37,317.30L302.37,313.00M302.37,477.60L302.37,475.20M302.37,317.30L302.37,319.70M312.81,17.40L312.81,19.60M312.81,317.30L312.81,315.10M312.81,477.60L312.81,476.40M312.81,317.30L312.81,318.50M323.25,17.40L323.25,21.70M323.25,317.30L323.25,313.00M323.25,477.60L323.25,475.20M323.25,317.30L323.25,319.70M333.69,17.40L333.69,19.60M333.69,317.30L333.69,315.10M333.69,477.60L333.69,476.40M333.69,317.30L333.69,318.50M344.13,17.40L344.13,21.70M344.13,317.30L344.13,313.00M344.13,477.60L344.13,475.20M344.13,317.30L344.13,319.70M354.57,17.40L354.57,19.60M354.57,317.30L354.57,315.10M354.57,477.60L354.57,476.40M354.57,317.30L354.57,318.50M365.00,17.40L365.00,25.90M365.00,317.30L365.00,308.80M365.00,477.60L365.00,473.00M365.00,317.30L365.00,321.90M45.70,316.52L51.50,316.52M370.80,316.52L365.00,316.52M45.70,313.79L51.50,313.79M370.80,313.79L365.00,313.79M45.70,311.42L51.50,311.42M370.80,311.42L365.00,311.42M45.70,309.33L51.50,309.33M370.80,309.33L365.00,309.33M45.70,307.46L56.70,307.46M370.80,307.46L359.80,307.46M45.70,295.16L51.50,295.16M370.80,295.16L365.00,295.16M45.70,287.96L51.50,287.96M370.80,287.96L365.00,287.96M45.70,282.86L51.50,282.86M370.80,282.86L365.00,282.86M45.70,278.90L51.50,278.90M370.80,278.90L365.00,278.90M45.70,275.66L51.50,275.66M370.80,275.66L365.00,275.66M45.70,272.93L51.50,272.93M370.80,272.93L365.00,272.93M45.70,270.56L51.50,270.56M370.80,270.56L365.00,270.56M45.70,268.47L51.50,268.47M370.80,268.47L365.00,268.47M45.70,266.60L56.70,266.60M370.80,266.60L359.80,266.60M45.70,254.30L51.50,254.30M370.80,254.30L365.00,254.30M45.70,247.10L51.50,247.10M370.80,247.10L365.00,247.10M45.70,242.00L51.50,242.00M370.80,242.00L365.00,242.00M45.70,238.04L51.50,238.04M370.80,238.04L365.00,238.04M45.70,234.80L51.50,234.80M370.80,234.80L365.00,234.80M45.70,232.07L51.50,232.07M370.80,232.07L365.00,232.07M45.70,229.70L51.50,229.70M370.80,229.70L365.00,229.70M45.70,227.61L51.50,227.61M370.80,227.61L365.00,227.61M45.70,225.74L56.70,225.74M370.80,225.74L359.80,225.74M45.70,213.44L51.50,213.44M370.80,213.44L365.00,213.44M45.70,206.24L51.50,206.24M370.80,206.24L365.00,206.24M45.70,201.14L51.50,201.14M370.80,201.14L365.00,201.14M45.70,197.18L51.50,197.18M370.80,197.18L365.00,197.18M45.70,193.94L51.50,193.94M370.80,193.94L365.00,193.94M45.70,191.21L51.50,191.21M370.80,191.21L365.00,191.21M45.70,188.84L51.50,188.84M370.80,188.84L365.00,188.84M45.70,186.75L51.50,186.75M370.80,186.75L365.00,186.75M45.70,184.88L56.70,184.88M370.80,184.88L359.80,184.88M45.70,172.58L51.50,172.58M370.80,172.58L365.00,172.58M45.70,165.38L51.50,165.38M370.80,165.38L365.00,165.38M45.70,160.28L51.50,160.28M370.80,160.28L365.00,160.28M45.70,156.32L51.50,156.32M370.80,156.32L365.00,156.32M45.70,153.08L51.50,153.08M370.80,153.08L365.00,153.08M45.70,150.35L51.50,150.35M370.80,150.35L365.00,150.35M45.70,147.98L51.50,147.98M370.80,147.98L365.00,147.98M45.70,145.89L51.50,145.89M370.80,145.89L365.00,145.89M45.70,144.02L56.70,144.02M370.80,144.02L359.80,144.02M45.70,131.72L51.50,131.72M370.80,131.72L365.00,131.72M45.70,124.52L51.50,124.52M370.80,124.52L365.00,124.52M45.70,119.42L51.50,119.42M370.80,119.42L365.00,119.42M45.70,115.46L51.50,115.46M370.80,115.46L365.00,115.46M45.70,112.22L51.50,112.22M370.80,112.22L365.00,112.22M45.70,109.49L51.50,109.49M370.80,109.49L365.00,109.49M45.70,107.12L51.50,107.12M370.80,107.12L365.00,107.12M45.70,105.03L51.50,105.03M370.80,105.03L365.00,105.03M45.70,103.16L56.70,103.16M370.80,103.16L359.80,103.16M45.70,90.86L51.50,90.86M370.80,90.86L365.00,90.86M45.70,83.66L51.50,83.66M370.80,83.66L365.00,83.66M45.70,78.56L51.50,78.56M370.80,78.56L365.00,78.56M45.70,74.60L51.50,74.60M370.80,74.60L365.00,74.60M45.70,71.36L51.50,71.36M370.80,71.36L365.00,71.36M45.70,68.63L51.50,68.63M370.80,68.63L365.00,68.63M45.70,66.26L51.50,66.26M370.80,66.26L365.00,66.26M45.70,64.17L51.50,64.17M370.80,64.17L365.00,64.17M45.70,62.30L56.70,62.30M370.80,62.30L359.80,62.30M45.70,50.00L51.50,50.00M370.80,50.00L365.00,50.00M45.70,42.80L51.50,42.80M370.80,42.80L365.00,42.80M45.70,37.70L51.50,37.70M370.80,37.70L365.00,37.70M45.70,33.74L51.50,33.74M370.80,33.74L365.00,33.74M45.70,30.50L51.50,30.50M370.80,30.50L365.00,30.50M45.70,27.77L51.50,27.77M370.80,27.77L365.00,27.77M45.70,25.40L51.50,25.40M370.80,25.40L365.00,25.40M45.70,23.31L51.50,23.31M370.80,23.31L365.00,23.31M45.70,21.44L56.70,21.44M370.80,21.44L359.80,21.44M45.70,477.51L50.70,477.51M370.80,477.51L365.80,477.51M45.70,458.10L54.70,458.10M370.80,458.10L361.80,458.10M45.70,442.24L50.70,442.24M370.80,442.24L365.80,442.24M45.70,428.83L50.70,428.83M370.80,428.83L365.80,428.83M45.70,417.21L50.70,417.21M370.80,417.21L365.80,417.21M45.70,406.97L50.70,406.97M370.80,406.97L365.80,406.97M45.70,397.80L54.70,397.80M370.80,397.80L361.80,397.80M45.70,389.51L50.70,389.51M370.80,389.51L365.80,389.51M45.70,381.94L50.70,381.94M370.80,381.94L365.80,381.94M45.70,374.98L50.70,374.98M370.80,374.98L365.80,374.98M45.70,368.53L50.70,368.53M370.80,368.53L365.80,368.53M45.70,362.53L50.70,362.53M370.80,362.53L365.80,362.53M45.70,356.91L50.70,356.91M370.80,356.91L365.80,356.91M45.70,351.64L50.70,351.64M370.80,351.64L365.80,351.64M45.70,346.67L50.70,346.67M370.80,346.67L365.80,346.67M45.70,341.97L50.70,341.97M370.80,341.97L365.80,341.97M45.70,337.50L54.70,337.50M370.80,337.50L361.80,337.50M45.70,333.26L50.70,333.26M370.80,333.26L365.80,333.26M45.70,329.21L50.70,329.21M370.80,329.21L365.80,329.21M45.70,325.35L50.70,325.35M370.80,325.35L365.80,325.35M45.70,321.64L50.70,321.64M370.80,321.64L365.80,321.64M45.70,318.09L50.70,318.09M370.80,318.09L365.80,318.09" stroke="#000" stroke-width="1" fill="none"/>
<text x="52.00" y="14.00" font-size="12" text-anchor="start" fill="#000" >13000 GeV pp</text>
<text x="366.50" y="14.00" font-size="12" text-anchor="end" fill="#000" >Soft QCD</text>
<text x="32" y="312.86" font-size="11" text-anchor="end">10</text>
<text x="31.2" y="308.36" font-size="7">&#8722;6</text>
<text x="32" y="272.00" font-size="11" text-anchor="end">10</text>
<text x="31.2" y="267.50" font-size="7">&#8722;5</text>
<text x="32" y="231.14" font-size="11" text-anchor="end">10</text>
<text x="31.2" y="226.64" font-size="7">&#8722;4</text>
<text x="32" y="190.28" font-size="11" text-anchor="end">10</text>
<text x="31.2" y="185.78" font-size="7">&#8722;3</text>
<text x="32" y="149.42" font-size="11" text-anchor="end">10</text>
<text x="31.2" y="144.92" font-size="7">&#8722;2</text>
<text x="32" y="108.56" font-size="11" text-anchor="end">10</text>
<text x="31.2" y="104.06" font-size="7">&#8722;1</text>
<text x="40.00" y="67.80" font-size="11" text-anchor="end" fill="#000" >1</text>
<text x="39.70" y="25.64" font-size="11" text-anchor="end" fill="#000" >10</text>
<text x="39.00" y="341.40" font-size="11" text-anchor="end" fill="#000" >2</text>
<text x="373.50" y="341.40" font-size="11" text-anchor="start" fill="#000" >2</text>
<text x="39.00" y="401.70" font-size="11" text-anchor="end" fill="#000" >1</text>
<text x="373.50" y="401.70" font-size="11" text-anchor="start" fill="#000" >1</text>
<text x="39.00" y="462.00" font-size="11" text-anchor="end" fill="#000" >0.5</text>
<text x="373.50" y="462.00" font-size="11" text-anchor="start" fill="#000" >0.5</text>
<text x="51.85" y="489.20" font-size="11" text-anchor="middle" fill="#000" >0</text>
<text x="156.23" y="489.20" font-size="11" text-anchor="middle" fill="#000" >5</text>
<text x="260.62" y="489.20" font-size="11" text-anchor="middle" fill="#000" >10</text>
<text x="365.00" y="489.20" font-size="11" text-anchor="middle" fill="#000" >15</text>
<text x="325" y="501.7" font-size="12">p<tspan font-size="8.6" dy="5.5" dx="0.8">T</tspan><tspan dy="-5.5" dx="1"> [GeV]</tspan></text>
<text transform="translate(14.9,149.2) rotate(-90)" font-size="12">1/N &#215; d<tspan font-size="8.5" dy="-5">2</tspan><tspan dy="5">/(dp</tspan><tspan font-size="8.5" dy="4">T</tspan><tspan dy="-4"> dy) [1/GeV]</tspan></text>
<text transform="translate(18.3,426) rotate(-90)" font-size="9">Ratio to ALICE</text>
<text transform="translate(379.6,128) rotate(-90)" font-size="9.4" fill="#666">Rivet 4.1.0, &#8805; 600k events</text>
<text transform="translate(381,316) rotate(-90)" font-size="9.5" fill="#666">mcplots.cern.ch [arXiv:2401.10621]</text>
<text x="140.5" y="45.6" font-size="12"><tspan letter-spacing="0.05">ALICE, 13 TeV, </tspan><tspan dx="2">K</tspan><tspan font-size="6.8" dy="-7.5" dx="-0.4">*0</tspan><tspan dy="7.5"> + #K</tspan><tspan font-size="6.8" dy="-9.3" dx="0.8">*0</tspan></text>
<line x1="261.3" y1="35.5" x2="269.2" y2="35.5" stroke="#000" stroke-width="0.9"/>
<text x="208" y="301.6" font-size="8" fill="#999" text-anchor="middle">(ALICE_2020_I1797443)</text>
<rect x="73.70" y="221.20" width="5.60" height="5.60" fill="#000"/>
<line x1="64" y1="237" x2="89" y2="237" stroke="#ff8080" stroke-width="1"/>
<ellipse cx="76.50" cy="237.00" rx="2.00" ry="2.60" fill="none" stroke="#ff8080" stroke-width="1"/>
<line x1="64" y1="250.1" x2="89" y2="250.1" stroke="#339933" stroke-width="1" stroke-dasharray="2.2,2"/>
<rect x="73.80" y="247.40" width="5.40" height="5.40" fill="none" stroke="#339933" stroke-width="1.1"/>
<line x1="64" y1="263" x2="89" y2="263" stroke="#0000ff" stroke-width="1"/>
<path d="M76.50,259.70 L79.50,265.40 L73.50,265.40Z" fill="#0000ff"/>
<line x1="64" y1="276" x2="89" y2="276" stroke="#ff0000" stroke-width="1" stroke-dasharray="1.1,1.1"/>
<path d="M76.50,272.65 L78.71,276.00 L76.50,279.35 L74.29,276.00Z" fill="#ff0000"/>
<text x="94.30" y="227.20" font-size="9.35" text-anchor="start" fill="#000" >ALICE</text>
<text x="94.30" y="240.20" font-size="9.35" text-anchor="start" fill="#000" >Epos 1.99.crmc.1.6.0 lhc</text>
<text x="94.30" y="253.30" font-size="9.35" text-anchor="start" fill="#000" >Herwig 7.2.1 default</text>
<text x="94.30" y="266.20" font-size="9.35" text-anchor="start" fill="#000" >Pythia 8.315 default</text>
<text x="94.30" y="279.20" font-size="9.35" text-anchor="start" fill="#000" >Sherpa 2.2.9 default</text>
</svg></body></html>
